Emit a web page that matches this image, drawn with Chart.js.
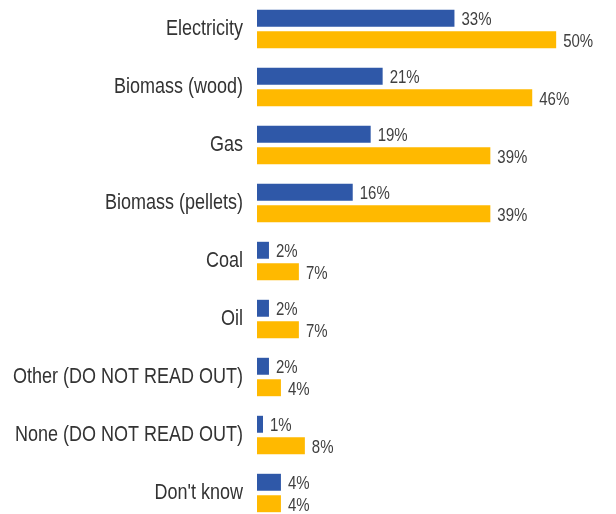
<!DOCTYPE html>
<html>
<head>
<meta charset="utf-8">
<script src="https://cdn.jsdelivr.net/npm/chart.js@4/dist/chart.umd.min.js"></script>
<style>
  html, body { margin: 0; padding: 0; background: #fff; overflow: hidden; }
  .wrap { position: relative; width: 616px; height: 522px; }
</style>
</head>
<body>
<div class="wrap"><canvas id="chart"></canvas></div>
<script>
Chart.defaults.font.family = "'Liberation Sans', Arial, sans-serif";

const categories = ['Electricity', 'Biomass (wood)', 'Gas', 'Biomass (pellets)', 'Coal', 'Oil',
  'Other (DO NOT READ OUT)', 'None (DO NOT READ OUT)', "Don't know"];
const seriesA = [33, 21, 19, 16, 2, 2, 2, 1, 4];
const seriesB = [50, 46, 39, 39, 7, 7, 4, 8, 4];

// text in the source is a bit taller than it is wide
function tallText(ctx, text, x, y, stretch) {
  ctx.save();
  ctx.translate(x, y);
  ctx.scale(1, stretch);
  ctx.fillText(text, 0, 0);
  ctx.restore();
}

// ---- category labels + value labels ----
const labelsPlugin = {
  id: 'labelsPlugin',
  afterDatasetsDraw(chart) {
    const ctx = chart.ctx;
    const yScale = chart.scales.y;
    ctx.save();
    ctx.textBaseline = 'middle';

    ctx.font = "18px 'Liberation Sans', Arial, sans-serif";
    ctx.fillStyle = '#333333';
    ctx.textAlign = 'right';
    categories.forEach((c, i) => {
      tallText(ctx, c, yScale.right - 14, yScale.getPixelForValue(i), 1.18);
    });

    ctx.font = "15px 'Liberation Sans', Arial, sans-serif";
    ctx.fillStyle = '#404040';
    ctx.textAlign = 'left';
    chart.data.datasets.forEach((ds, di) => {
      chart.getDatasetMeta(di).data.forEach((bar, i) => {
        tallText(ctx, ds.data[i] + '%', bar.x + 7, bar.y + 2, 1.18);
      });
    });
    ctx.restore();
  }
};

new Chart(document.getElementById('chart'), {
  type: 'bar',
  data: {
    labels: categories,
    datasets: [
      { label: 'A', data: seriesA, backgroundColor: '#2F58A8', categoryPercentage: 0.74, barPercentage: 0.79 },
      { label: 'B', data: seriesB, backgroundColor: '#FFB900', categoryPercentage: 0.74, barPercentage: 0.79 }
    ]
  },
  options: {
    indexAxis: 'y',
    responsive: true,
    maintainAspectRatio: false,
    animation: false,
    layout: { padding: 0 },
    plugins: { legend: { display: false }, tooltip: { enabled: false } },
    events: [],
    scales: {
      x: { display: false, min: 0, max: 60 },
      y: {
        afterFit: s => { s.width = 257; s.paddingTop = 0; s.paddingBottom = 0; },
        grid: { display: false, drawTicks: false },
        border: { display: false },
        ticks: { display: false }
      }
    }
  },
  plugins: [labelsPlugin]
});
</script>
</body>
</html>
